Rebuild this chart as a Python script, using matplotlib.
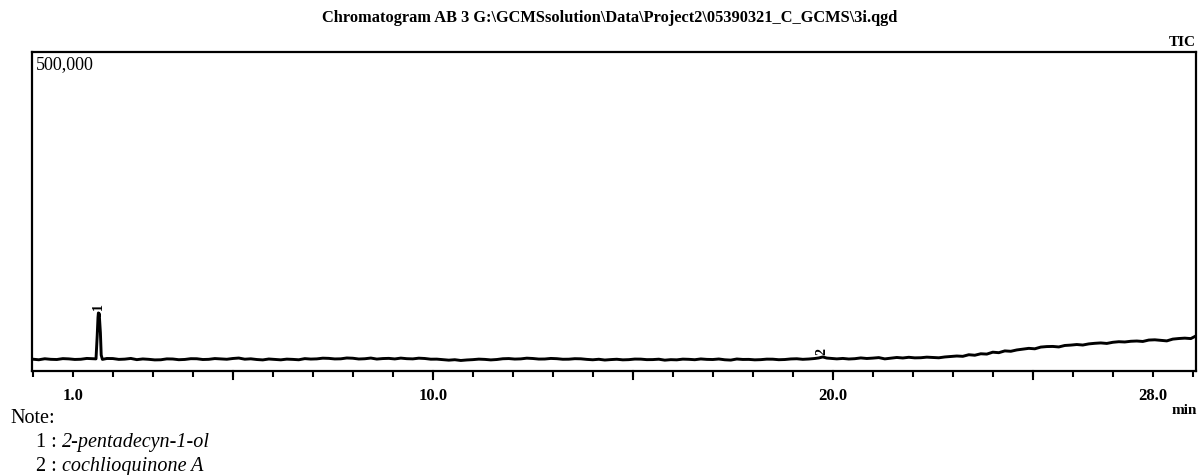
import matplotlib
matplotlib.use("Agg")
import matplotlib.pyplot as plt
from matplotlib.ticker import MultipleLocator, FixedLocator

# ---- data (retention time in min, TIC intensity in counts) ----
time_min = [0.0, 0.15, 0.3, 0.45, 0.6, 0.75, 0.9, 1.05, 1.2, 1.35, 1.5, 1.58, 1.61, 1.63,
            1.64, 1.65, 1.66, 1.67, 1.69, 1.71, 1.74, 1.85,
            2.0, 2.15, 2.3, 2.45, 2.6, 2.75, 2.9, 3.05, 3.2, 3.35, 3.5, 3.65, 3.8, 3.95,
            4.1, 4.25, 4.4, 4.55, 4.7, 4.85, 5.0, 5.15, 5.3, 5.45, 5.6, 5.75, 5.9, 6.05,
            6.2, 6.35, 6.5, 6.65, 6.8, 6.95, 7.1, 7.25, 7.4, 7.55, 7.7, 7.85, 8.0, 8.15,
            8.3, 8.45, 8.6, 8.75, 8.9, 9.05, 9.2, 9.35, 9.5, 9.65, 9.8, 9.95, 10.1, 10.25,
            10.4, 10.55, 10.7, 10.85, 11.0, 11.15, 11.3, 11.45, 11.6, 11.75, 11.9, 12.05,
            12.2, 12.35, 12.5, 12.65, 12.8, 12.95, 13.1, 13.25, 13.4, 13.55, 13.7, 13.85,
            14.0, 14.15, 14.3, 14.45, 14.6, 14.75, 14.9, 15.05, 15.2, 15.35, 15.5, 15.65,
            15.8, 15.95, 16.1, 16.25, 16.4, 16.55, 16.7, 16.85, 17.0, 17.15, 17.3, 17.45,
            17.6, 17.75, 17.9, 18.05, 18.2, 18.35, 18.5, 18.65, 18.8, 18.95, 19.1, 19.25,
            19.4, 19.55, 19.65, 19.75, 19.85, 19.95, 20.1, 20.25, 20.4, 20.55, 20.7, 20.85,
            21.0, 21.15, 21.3, 21.45, 21.6, 21.75, 21.9, 22.05, 22.2, 22.35, 22.5, 22.65,
            22.8, 22.95, 23.1, 23.25, 23.4, 23.55, 23.7, 23.85, 24.0, 24.15, 24.3, 24.45,
            24.6, 24.75, 24.9, 25.05, 25.2, 25.35, 25.5, 25.65, 25.8, 25.95, 26.1, 26.25,
            26.4, 26.55, 26.7, 26.85, 27.0, 27.15, 27.3, 27.45, 27.6, 27.75, 27.9, 28.05,
            28.2, 28.35, 28.5, 28.65, 28.8, 28.95, 29.08]
intensity = [18500, 17600, 19200, 18300, 18000, 19400, 19000, 18100, 18400, 19700, 19300,
             19000, 55000, 84000, 91000, 86000, 90000, 80000, 60000, 25000, 18200, 19600,
             19500, 18200, 18600, 19700, 17800, 18900, 18300, 17400, 17600, 19000, 18800,
             17700, 18100, 19300, 19200, 18000, 18300, 19500, 18900, 18400, 19600, 20300,
             18500, 19100, 18000, 17400, 18800, 18100, 17500, 18600, 18200, 17600, 19400,
             18700, 19000, 20100, 19800, 18900, 19100, 20400, 20000, 18800, 19200, 20300,
             18700, 19500, 19800, 18900, 20200, 19300, 19000, 20100, 19600, 18500, 18600,
             17800, 17000, 17700, 16500, 17300, 17800, 18600, 18200, 17400, 18000, 19200,
             19500, 18700, 19000, 20100, 19600, 18700, 18800, 19700, 19300, 18400, 18500,
             19300, 19100, 18200, 17600, 18400, 17200, 17900, 18400, 17500, 17800, 18700,
             18600, 17800, 17900, 18500, 17000, 17800, 17500, 18600, 18300, 17700, 18900,
             18200, 18000, 18800, 17600, 17100, 18800, 18100, 18200, 17500, 17800, 18600,
             18500, 17700, 18000, 18900, 19200, 18300, 18800, 19600, 20500, 22000, 20300,
             19800, 19000, 19700, 18800, 19300, 20500, 19600, 20200, 21000, 19000, 20100,
             21200, 20400, 21500, 20600, 20800, 21700, 21200, 20700, 22000, 22800, 23500,
             23000, 25500, 24700, 27000, 26500, 29500, 28700, 31500, 30900, 33000, 34200,
             35500, 34800, 37500, 38300, 38500, 37700, 40000, 40600, 41500, 40700, 42500,
             43400, 44000, 43200, 45000, 45900, 45500, 46600, 47000, 46300, 48500, 48900,
             48000, 47200, 50000, 50900, 51500, 50800, 55000]

peak_ids = ["1", "2"]
peak_times = [1.65, 19.72]
peak_label_y = [101000, 29800]

tick_values = [1.0, 10.0, 20.0, 28.0]
tick_labels = ["1.0", "10.0", "20.0", "28.0"]
y_max_label = "500,000"
title = r"Chromatogram AB 3 G:\GCMSsolution\Data\Project2\05390321_C_GCMS\3i.qgd"
notes = [("1", "2-pentadecyn-1-ol"), ("2", "cochlioquinone A")]

serif = ["Liberation Serif", "DejaVu Serif"]

fig = plt.figure(figsize=(12, 4.75), dpi=100)
ax = fig.add_axes([32 / 1200, 1 - 371 / 475, (1196 - 32) / 1200, (371 - 52) / 475])

ax.plot(time_min, intensity, color="black", lw=2.1)
ax.set_xlim(-0.02, 29.08)
ax.set_ylim(0, 500000)

for pid, pt, py in zip(peak_ids, peak_times, peak_label_y):
    ax.text(pt, py, pid, rotation=90, ha="center", va="center", fontsize=10,
            fontweight="bold", family=serif, color="black")

for s in ax.spines.values():
    s.set_linewidth(1.6)
ax.set_yticks([])
ax.xaxis.set_major_locator(FixedLocator(tick_values))
ax.set_xticklabels(tick_labels, fontsize=12, fontweight="bold", family=serif)
ax.xaxis.set_minor_locator(MultipleLocator(1.0))
ax.tick_params(axis="x", which="major", direction="out", length=4, width=1.5, pad=8)
ax.tick_params(axis="x", which="minor", direction="out", length=4, width=1.5)
# longer ticks at every 5 min
for t in [5, 10, 15, 20, 25]:
    ax.plot([t, t], [0, -0.025], transform=ax.get_xaxis_transform(), color="black",
            lw=1.5, clip_on=False)

ax.text(0.003, 0.988, y_max_label, transform=ax.transAxes, ha="left", va="top",
        fontsize=13, family=serif)

fig.text(610 / 1200, 1 - 18 / 475, title, ha="center", va="center", fontsize=11.8,
         fontweight="bold", family=serif)
fig.text(1196 / 1200, 1 - 42 / 475, "TIC", ha="right", va="center", fontsize=11,
         fontweight="bold", family=serif)
fig.text(1197 / 1200, 1 - 411 / 475, "min", ha="right", va="center", fontsize=11,
         fontweight="bold", family=serif)

fig.text(10 / 1200, 1 - 423 / 475, "Note:", ha="left", va="baseline", fontsize=14.5,
         family=serif)
for i, (num, name) in enumerate(notes):
    yb = 1 - (447 + 24 * i) / 475
    t1 = fig.text(36 / 1200, yb, num + " : ", ha="left", va="baseline", fontsize=14.5,
                  family=serif)
    fig.canvas.draw()
    bb = t1.get_window_extent()
    fig.text(bb.x1 / 1200, yb, name, ha="left", va="baseline", fontsize=14.5,
             family=serif, style="italic")

fig.savefig("out.png", dpi=100)
